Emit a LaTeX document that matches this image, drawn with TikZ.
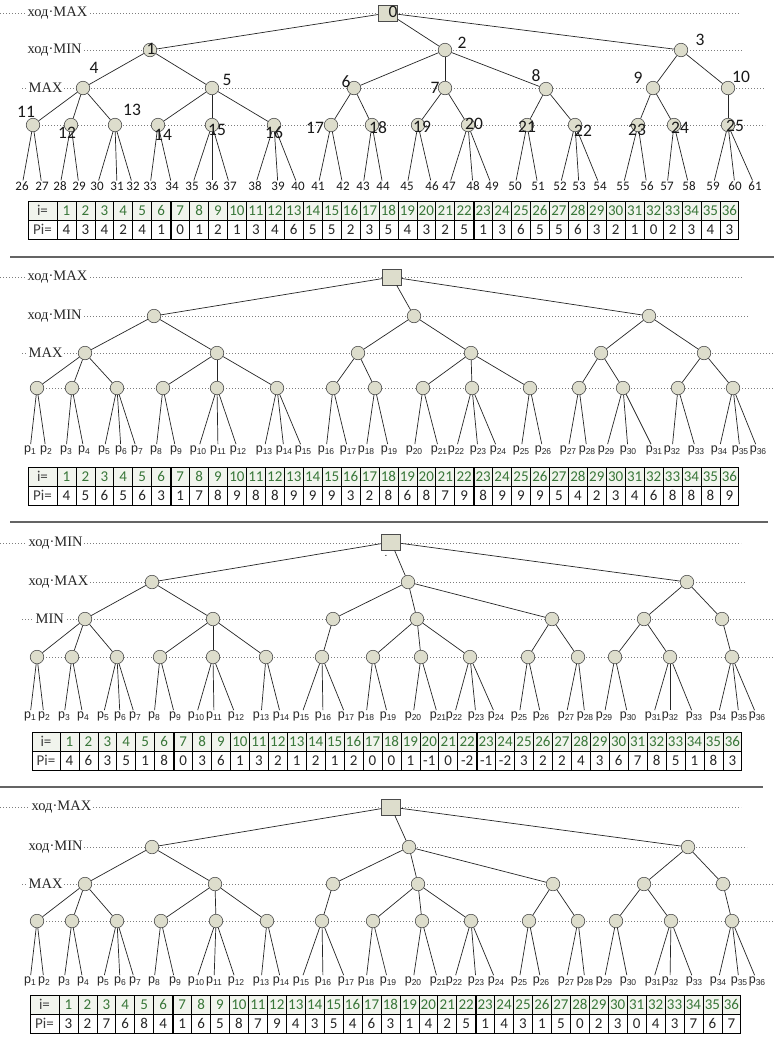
\documentclass[tikz,border=0pt]{standalone}
\usepackage{fontspec}
\setmainfont{Liberation Serif}
\newfontfamily\lvlfont{Liberation Serif}
\newfontfamily\numfont{Carlito}
\newfontfamily\pfont{Liberation Sans}
\newcommand\pp[1]{p\raisebox{-0.3ex}{\fontsize{8.5}{8.5}\selectfont #1}}
\definecolor{nodefill}{RGB}{221,221,204}
\definecolor{dotgray}{RGB}{125,125,125}
\definecolor{hdrgreen}{RGB}{56,118,56}
\definecolor{hdrbg}{RGB}{241,244,237}
\definecolor{sepgray}{RGB}{100,100,100}
\tikzset{
 dotl/.style={draw=dotgray, line width=0.8pt, dash pattern=on 0.8pt off 2.2pt},
 lvl/.style={font=\lvlfont\fontsize{14.5}{15}\selectfont, fill=white, inner xsep=1.5pt, inner ysep=0pt, anchor=west, text=black!85},
 circ/.style={circle, draw=black!70, fill=nodefill, minimum size=13.5pt, inner sep=0pt, line width=0.6pt},
 rootsq/.style={rectangle, draw=black!70, fill=nodefill, minimum width=19pt, minimum height=16pt, inner sep=0pt, line width=0.8pt},
 conn/.style={draw=black!85, line width=0.7pt},
 nlab/.style={font=\numfont\fontsize{17.5}{17.5}\selectfont, inner sep=0pt, text=black!90},
 leafn/.style={font=\numfont\fontsize{13}{13}\selectfont, inner sep=1pt, text=black!90},
 plab/.style={font=\pfont\fontsize{12.5}{12.5}\selectfont, inner sep=1pt, text=black!85},
 sepl/.style={draw=sepgray, line width=1.2pt},
 tline/.style={draw=black, line width=0.7pt},
 tthick/.style={draw=black, line width=1.8pt},
 tlab/.style={font=\numfont\fontsize{15}{15}\selectfont, inner sep=0pt, text=black!75},
 thdr/.style={font=\numfont\fontsize{15}{15}\selectfont, inner sep=0pt, text=hdrgreen},
 tval/.style={font=\numfont\fontsize{15}{15}\selectfont, inner sep=0pt, text=black!85},
}
% #1 prefix, #2 top, #3 left, #4 first-cell x, #5 values
\newcommand\ptable[5]{%
 \pgfmathsetmacro\tT{#2}%
 \pgfmathsetmacro\tM{#2+19}%
 \pgfmathsetmacro\tB{#2+38}%
 \pgfmathsetmacro\tR{#4+36*18.94}%
 \pgfmathsetmacro\tCa{(#3+#4)/2}%
 \fill[hdrbg] (#3,\tT) rectangle (\tR,\tM);
 \node[tlab] (#1-i) at (\tCa,\tT+9.8) {i=};
 \node[tlab] (#1-pi) at (\tCa,\tM+9.8) {Pi=};
 \foreach \vv [count=\ii] in {#5} {
   \node[thdr] (#1-h\ii) at ({#4+(\ii-0.5)*18.94},\tT+9.8) {\ii};
   \node[tval] (#1-v\ii) at ({#4+(\ii-0.5)*18.94},\tM+9.8) {\vv};
   \draw[tline] ({#4+\ii*18.94},\tT) -- ({#4+\ii*18.94},\tB);
 }
 \draw[tline] (#3,\tT) rectangle (\tR,\tB);
 \draw[tline] (#3,\tM) -- (\tR,\tM);
 \draw[tline] (#4,\tT) -- (#4,\tB);
 \draw[tthick] ({#4+6*18.94},\tT) -- ({#4+6*18.94},\tB);
 \draw[tthick] ({#4+22*18.94},\tT) -- ({#4+22*18.94},\tB);
}
\begin{document}
\begin{tikzpicture}[x=1pt,y=-1pt]
\useasboundingbox (0,0) rectangle (774,1037);
\fill[white] (0,0) rectangle (774,1037);

% separators
\draw[sepl] (10,257) -- (774,257);
\draw[sepl] (10,522) -- (768,522);
\draw[sepl] (0,787) -- (763,787);

% ================= PANEL 1 =================
\draw[dotl] (0,13) -- (740,13);
\draw[dotl] (27,50) -- (743,50);
\draw[dotl] (22,88) -- (765,88);
\draw[dotl] (33,125) -- (765,125);
\node[lvl] (aL1) at (26,13) {ход·MAX};
\node[lvl] (aL2) at (26,50) {ход·MIN};
\node[lvl] (aL3) at (27,88) {MAX};

\node[rootsq] (a0) at (388,13) {};
\foreach \n/\xx/\yy in {1/150/50, 2/445/50, 3/681/50, 4/83/88, 5/212/88, 6/354/88, 7/445/88, 8/546/89, 9/653/88, 10/728/88, 11/33/125, 12/71/125, 13/115/125, 14/158/125, 15/212/125, 16/274/125, 17/331/125, 18/372/125, 19/418/125, 20/468/125, 21/527/125, 22/575/125, 23/638/125, 24/674/125, 25/728/125}
  \node[circ] (a\n) at (\xx,\yy) {};
\foreach \n/\xx in {26/22, 27/42, 28/60, 29/79, 30/97, 31/117, 32/133, 33/150, 34/172, 35/192, 36/212, 37/230, 38/255, 39/278, 40/298, 41/318, 42/343, 43/363, 44/383, 45/407, 46/432, 47/449, 48/473, 49/492, 50/515, 51/538, 52/560, 53/579, 54/600, 55/623, 56/647, 57/667, 58/689, 59/713, 60/735, 61/755}
  \node[leafn] (a\n) at (\xx,186) {\n};
\foreach \p/\c in {0/1,0/2,0/3,1/4,1/5,2/6,2/7,2/8,3/9,3/10,4/11,4/12,4/13,5/14,5/15,5/16,6/17,6/18,7/19,7/20,8/21,8/22,9/23,9/24,10/25,11/26,11/27,12/28,12/29,13/30,13/31,13/32,14/33,14/34,15/35,15/36,15/37,16/38,16/39,16/40,17/41,17/42,18/43,18/44,19/45,19/46,20/47,20/48,20/49,21/50,21/51,22/52,22/53,22/54,23/55,23/56,24/57,24/58,25/59,25/60,25/61}
  \draw[conn] (a\p) -- (a\c);
\foreach \n/\xx/\yy in {0/393/12, 1/151/49, 2/462/43, 3/700/40, 4/94/68, 5/227/80, 6/346/82, 7/435/88, 8/536/76, 9/638/78, 10/741/77, 11/26/112, 12/67/133, 13/132/110, 14/163/135, 15/217/130, 16/274/133, 17/315/128, 18/378/128, 19/422/127, 20/474/124, 21/527/127, 22/583/131, 23/637/130, 24/680/128, 25/735/126}
  \node[nlab] (al\n) at (\xx,\yy) {\n};
\ptable{ta}{201}{28}{57}{4,3,4,2,4,1,0,1,2,1,3,4,6,5,5,2,3,5,4,3,2,5,1,3,6,5,5,6,3,2,1,0,2,3,4,3}

% ================= PANEL 2 =================
\draw[dotl] (0,277) -- (742,277);
\draw[dotl] (27,316) -- (748,316);
\draw[dotl] (22,353) -- (774,353);
\draw[dotl] (37,388) -- (774,388);
\node[lvl] (bL1) at (26,277) {ход·MAX};
\node[lvl] (bL2) at (26,316) {ход·MIN};
\node[lvl] (bL3) at (27,353) {MAX};

\node[rootsq] (b0) at (392,277) {};
\foreach \n/\xx/\yy in {1/154/316, 2/414/316, 3/649/316, 4/85/353, 5/217/353, 6/358/353, 7/471/353, 8/601/353, 9/704/353, 10/37/388, 11/72/388, 12/117/388, 13/163/388, 14/217/388, 15/277/388, 16/333/388, 17/375/388, 18/423/388, 19/472/388, 20/530/388, 21/579/388, 22/623/388, 23/678/388, 24/733/388}
  \node[circ] (b\n) at (\xx,\yy) {};
\foreach \n/\xx in {1/30, 2/46, 3/66, 4/84, 5/104, 6/121, 7/137, 8/156, 9/176, 10/198, 11/218, 12/238, 13/264, 14/284, 15/303, 16/326, 17/348, 18/366, 19/389, 20/414, 21/439, 22/456, 23/478, 24/498, 25/521, 26/543, 27/568, 28/587, 29/606, 30/628, 31/654, 32/672, 33/696, 34/719, 35/740, 36/758}
  \node[plab] (bp\n) at (\xx,450) {\pp{\n}};
\foreach \p/\c in {0/1,0/2,0/3,1/4,1/5,2/6,2/7,3/8,3/9,4/10,4/11,4/12,5/13,5/14,5/15,6/16,6/17,7/18,7/19,7/20,8/21,8/22,9/23,9/24}
  \draw[conn] (b\p) -- (b\c);
\foreach \p/\c in {10/1,10/2,11/3,11/4,12/5,12/6,12/7,13/8,13/9,14/10,14/11,14/12,15/13,15/14,15/15,16/16,16/17,17/18,17/19,18/20,18/21,19/22,19/23,19/24,20/25,20/26,21/27,21/28,22/29,22/30,22/31,23/32,23/33,24/34,24/35,24/36}
  \draw[conn] (b\p) -- (bp\c);
\ptable{tb}{467}{28}{57}{4,5,6,5,6,3,1,7,8,9,8,8,9,9,9,3,2,8,6,8,7,9,8,9,9,9,5,4,2,3,4,6,8,8,8,9}

% ================= PANEL 3 =================
\draw[dotl] (0,543) -- (741,543);
\draw[dotl] (27,582) -- (745,582);
\draw[dotl] (22,619) -- (774,619);
\draw[dotl] (37,657) -- (774,657);
\node[lvl] (cL1) at (27,543) {ход·MIN};
\node[lvl] (cL2) at (27,582) {ход·MAX};
\node[lvl] (cL3) at (34,619) {MIN};

\node[rootsq] (c0) at (391,542) {};
\node[inner sep=0pt, font=\pfont\fontsize{10}{10}\selectfont] (cdot) at (386,556) {.};
\foreach \n/\xx/\yy in {1/152/582, 2/408/582, 3/687/582, 4/85/619, 5/213/619, 6/333/619, 7/417/619, 8/552/619, 9/644/619, 10/722/619, 11/37/657, 12/72/657, 13/117/657, 14/160/657, 15/213/657, 16/266/657, 17/322/657, 18/373/657, 19/421/657, 20/470/657, 21/528/657, 22/578/657, 23/615/657, 24/670/657, 25/732/657}
  \node[circ] (c\n) at (\xx,\yy) {};
\foreach \n/\xx in {1/30, 2/44, 3/64, 4/83, 5/103, 6/120, 7/135, 8/154, 9/175, 10/196, 11/214, 12/236, 13/261, 14/281, 15/301, 16/323, 17/346, 18/366, 19/388, 20/413, 21/438, 22/454, 23/476, 24/496, 25/519, 26/541, 27/566, 28/585, 29/604, 30/628, 31/653, 32/670, 33/694, 34/718, 35/739, 36/757}
  \node[plab] (cp\n) at (\xx,716) {\pp{\n}};
\foreach \p/\c in {0/1,0/2,0/3,1/4,1/5,2/6,2/7,2/8,3/9,3/10,4/11,4/12,4/13,5/14,5/15,5/16,6/17,7/18,7/19,7/20,8/21,8/22,9/23,9/24,10/25}
  \draw[conn] (c\p) -- (c\c);
\foreach \p/\c in {11/1,11/2,12/3,12/4,13/5,13/6,13/7,14/8,14/9,15/10,15/11,15/12,16/13,16/14,17/15,17/16,17/17,18/18,18/19,19/20,19/21,20/22,20/23,20/24,21/25,21/26,22/27,22/28,23/29,23/30,24/31,24/32,24/33,25/34,25/35,25/36}
  \draw[conn] (c\p) -- (cp\c);
\ptable{tc}{732}{32}{60}{4,6,3,5,1,8,0,3,6,1,3,2,1,2,1,2,0,0,1,-1,0,-2,-1,-2,3,2,2,4,3,6,7,8,5,1,8,3}

% ================= PANEL 4 =================
\draw[dotl] (0,807) -- (741,807);
\draw[dotl] (27,847) -- (747,847);
\draw[dotl] (22,884) -- (774,884);
\draw[dotl] (37,921) -- (774,921);
\node[lvl] (dL1) at (30,807) {ход·MAX};
\node[lvl] (dL2) at (27,847) {ход·MIN};
\node[lvl] (dL3) at (27,884) {MAX};

\node[rootsq] (d0) at (391,807) {};
\foreach \n/\xx/\yy in {1/152/847, 2/409/847, 3/688/847, 4/85/884, 5/215/884, 6/333/884, 7/418/884, 8/553/884, 9/644/884, 10/723/884, 11/37/921, 12/72/921, 13/117/921, 14/161/921, 15/216/921, 16/267/921, 17/322/921, 18/373/921, 19/422/921, 20/471/921, 21/529/921, 22/578/921, 23/616/921, 24/671/921, 25/732/921}
  \node[circ] (d\n) at (\xx,\yy) {};
\foreach \n/\xx in {1/30, 2/44, 3/64, 4/83, 5/103, 6/120, 7/135, 8/154, 9/175, 10/196, 11/214, 12/236, 13/261, 14/281, 15/301, 16/323, 17/346, 18/366, 19/388, 20/413, 21/438, 22/454, 23/476, 24/496, 25/519, 26/541, 27/566, 28/585, 29/604, 30/628, 31/653, 32/670, 33/694, 34/718, 35/739, 36/757}
  \node[plab] (dp\n) at (\xx,981) {\pp{\n}};
\foreach \p/\c in {0/1,0/2,0/3,1/4,1/5,2/6,2/7,2/8,3/9,3/10,4/11,4/12,4/13,5/14,5/15,5/16,6/17,7/18,7/19,7/20,8/21,8/22,9/23,9/24,10/25}
  \draw[conn] (d\p) -- (d\c);
\foreach \p/\c in {11/1,11/2,12/3,12/4,13/5,13/6,13/7,14/8,14/9,15/10,15/11,15/12,16/13,16/14,17/15,17/16,17/17,18/18,18/19,19/20,19/21,20/22,20/23,20/24,21/25,21/26,22/27,22/28,23/29,23/30,24/31,24/32,24/33,25/34,25/35,25/36}
  \draw[conn] (d\p) -- (dp\c);
\ptable{td}{995}{30}{59}{3,2,7,6,8,4,1,6,5,8,7,9,4,3,5,4,6,3,1,4,2,5,1,4,3,1,5,0,2,3,0,4,3,7,6,7}
\end{tikzpicture}
\end{document}
